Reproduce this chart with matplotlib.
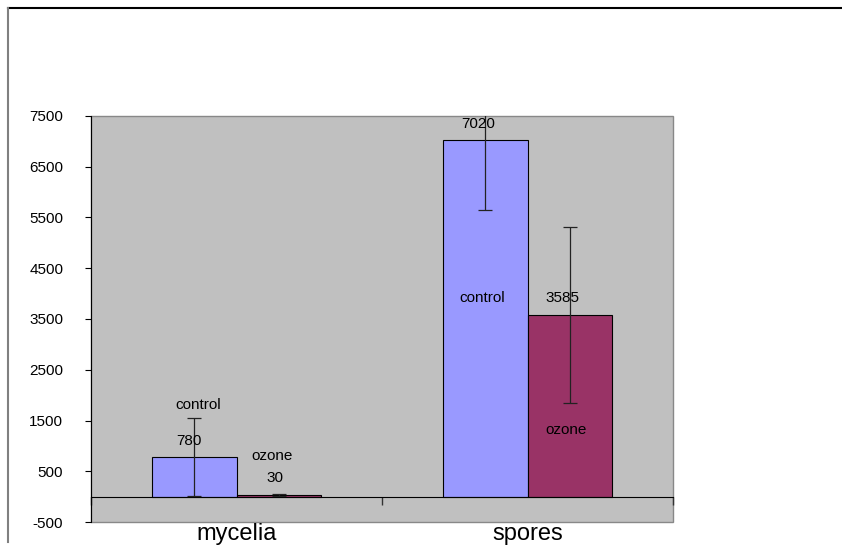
import matplotlib.pyplot as plt
from matplotlib.lines import Line2D
from matplotlib.patches import Rectangle
import numpy as np

plt.rcParams['font.family'] = ['Liberation Sans', 'DejaVu Sans']
plt.rcParams['axes.unicode_minus'] = False

categories = ['mycelia', 'spores']
control = [780, 7020]
ozone = [30, 3585]
control_err = [770, 1370]
ozone_err = [25, 1735]
yticks = [-500, 500, 1500, 2500, 3500, 4500, 5500, 6500, 7500]

fig = plt.figure(figsize=(8.42, 5.47), dpi=100)
ax = fig.add_axes([91 / 842, 1 - 522 / 547, 582 / 842, 406 / 547])
ax.set_facecolor('#C0C0C0')

x = np.arange(len(categories))
w = 0.289
ax.bar(x - w / 2, control, w, color='#9999FF', edgecolor='black', linewidth=0.8, zorder=2)
ax.bar(x + w / 2, ozone, w, color='#993366', edgecolor='black', linewidth=0.8, zorder=2)
ax.errorbar(x - w / 2, control, yerr=control_err, fmt='none', ecolor='#222222',
            elinewidth=0.9, capsize=5, capthick=0.9, zorder=3)
ax.errorbar(x + w / 2, ozone, yerr=ozone_err, fmt='none', ecolor='#222222',
            elinewidth=0.9, capsize=5, capthick=0.9, zorder=3)

ax.set_xlim(-0.5, 1.5)
ax.set_ylim(-500, 7500)
ax.set_yticks(yticks)
ax.tick_params(axis='y', direction='out', length=4, width=0.8, pad=16, labelsize=11)

# x axis sits on zero with ticks between categories
ax.spines['bottom'].set_position(('data', 0))
ax.set_xticks([-0.5, 0.5, 1.5])
ax.set_xticklabels([])
ax.tick_params(axis='x', direction='out', length=6, width=1, color='#333333')
for s in ['top', 'right']:
    ax.spines[s].set_visible(False)
ax.add_patch(Rectangle((0, 0), 1, 1, transform=ax.transAxes, fill=False,
                       edgecolor='#888888', linewidth=1, zorder=1, clip_on=False))
for i, c in enumerate(categories):
    xf = (91 + (i + 0.5) * 291) / 842
    fig.text(xf, 2 / 547, c, ha='center', va='bottom', fontsize=17)

# data labels as placed in the original
labels = [
    (-0.132, 1805, 'control'), (-0.163, 1095, '780'),
    (0.122, 800, 'ozone'), (0.132, 366, '30'),
    (1 - 0.170, 7342, '7020'), (1 - 0.156, 3913, 'control'),
    (1 + 0.119, 3913, '3585'), (1 + 0.132, 1312, 'ozone'),
]
for lx, ly, t in labels:
    ax.text(lx, ly, t, ha='center', va='center', fontsize=11, zorder=4)

# faint leftover label box edge
ax.plot([-0.0224, -0.0224, 0.0], [770, 300, 300], color='#E4E4E4', lw=1.2, zorder=1.5)

# outer chart frame
fig.add_artist(Line2D([8 / 842, 1], [1 - 8 / 547, 1 - 8 / 547], color='black', lw=1.5))
fig.add_artist(Line2D([8 / 842, 8 / 842], [1 - 8 / 547, 1 - 542 / 547], color='#808080', lw=1.5))

fig.savefig('out.png', dpi=100)
